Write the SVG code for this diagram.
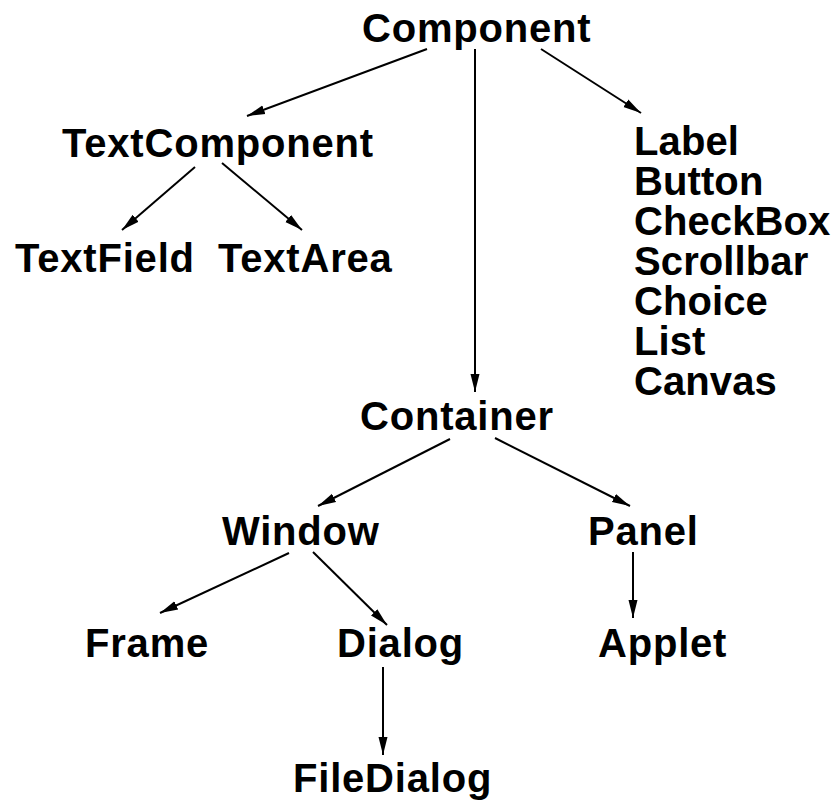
<svg xmlns="http://www.w3.org/2000/svg" width="836" height="803" viewBox="0 0 836 803">
<style>
text{font-family:"Liberation Sans",Arial,sans-serif;font-size:40px;font-weight:bold;fill:#000;letter-spacing:0.8px}
#leaves text{letter-spacing:0.1px}
.c line{stroke:#000;stroke-width:2;marker-end:url(#ah)}
</style>
<defs>
<marker id="ah" markerUnits="userSpaceOnUse" markerWidth="20" markerHeight="12" refX="18" refY="6" orient="auto">
<path d="M0,1.5 L18,6 L0,10.5 z" fill="#000"/>
</marker>
</defs>
<rect width="836" height="803" fill="#fff"/>
<g class="c">
<line x1="427" y1="49" x2="247" y2="116"/>
<line x1="475" y1="49" x2="475" y2="392"/>
<line x1="541" y1="49" x2="641" y2="113"/>
<line x1="195" y1="167" x2="122" y2="230"/>
<line x1="222" y1="163" x2="302" y2="230"/>
<line x1="450" y1="439" x2="318" y2="506"/>
<line x1="495" y1="438" x2="630" y2="506"/>
<line x1="289" y1="553" x2="160" y2="613"/>
<line x1="313" y1="552" x2="387" y2="625"/>
<line x1="633" y1="552" x2="633" y2="618"/>
<line x1="383" y1="667" x2="383" y2="755"/>
</g>
<g id="component"><text x="362" y="42">Component</text></g>
<g id="textcomponent"><text x="62" y="157">TextComponent</text></g>
<g id="textfield"><text x="15" y="272">TextField</text></g>
<g id="textarea"><text x="218" y="272">TextArea</text></g>
<g id="leaves"><text x="634" y="155">Label</text><text x="634" y="195">Button</text><text x="634" y="235">CheckBox</text><text x="634" y="275">Scrollbar</text><text x="634" y="315">Choice</text><text x="634" y="355">List</text><text x="634" y="395">Canvas</text></g>
<g id="container"><text x="360" y="430">Container</text></g>
<g id="window"><text x="222" y="545">Window</text></g>
<g id="panel"><text x="588" y="545">Panel</text></g>
<g id="frame"><text x="85" y="657">Frame</text></g>
<g id="dialog"><text x="337" y="657">Dialog</text></g>
<g id="applet"><text x="598" y="657">Applet</text></g>
<g id="filedialog"><text x="293" y="792">FileDialog</text></g>
</svg>
